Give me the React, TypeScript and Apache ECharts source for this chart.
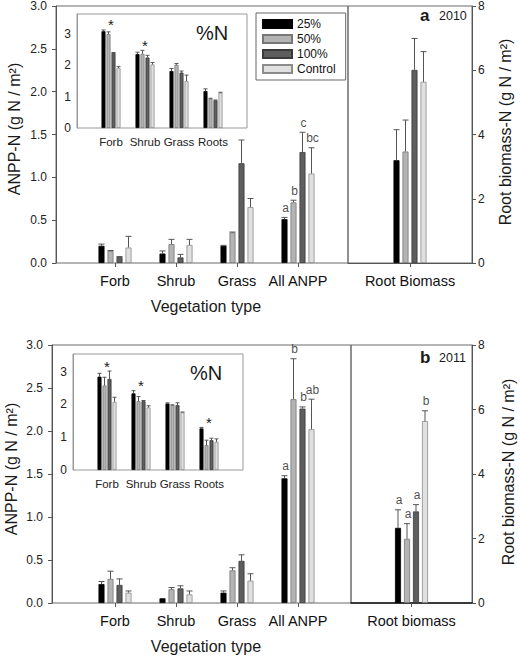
import React, { useEffect, useRef } from "react";
import * as echarts from "echarts";

// ---------- data ----------
const SERIES_NAMES = ["25%", "50%", "100%", "Control"];
const MAIN_CATS = ["Forb", "Shrub", "Grass", "All ANPP"];
const INSET_CATS = ["Forb", "Shrub", "Grass", "Roots"];
const ROOT_CAT_2010 = ["Root Biomass"];
const ROOT_CAT_2011 = ["Root biomass"];

// 2010 ANPP-N (g N / m2), order: Forb, Shrub, Grass, All ANPP
const ANPP10_25 = [0.2, 0.11, 0.2, 0.51];
const ANPP10_25_SE = [0.02, 0.03, 0.005, 0.02];
const ANPP10_50 = [0.14, 0.22, 0.355, 0.705];
const ANPP10_50_SE = [0.005, 0.055, 0.005, 0.025];
const ANPP10_100 = [0.07, 0.065, 1.16, 1.29];
const ANPP10_100_SE = [0.005, 0.035, 0.27, 0.23];
const ANPP10_CTRL = [0.18, 0.21, 0.65, 1.04];
const ANPP10_CTRL_SE = [0.13, 0.065, 0.1, 0.3];
const ANPP10_LETTERS = [
  ["", "", "", "a"],
  ["", "", "", "b"],
  ["", "", "", "c"],
  ["", "", "", "bc"],
];
// 2010 root biomass-N, order: 25%, 50%, 100%, Control
const ROOT10 = [3.2, 3.47, 6.01, 5.64];
const ROOT10_SE = [0.95, 0.98, 0.98, 0.94];
const ROOT10_LETTERS = ["", "", "", ""];
// 2010 %N inset, order: Forb, Shrub, Grass, Roots
const PCTN10_25 = [3.09, 2.36, 1.82, 1.18];
const PCTN10_25_SE = [0.04, 0.06, 0.08, 0.07];
const PCTN10_50 = [3.0, 2.37, 2.02, 0.94];
const PCTN10_50_SE = [0.07, 0.11, 0.04, 0.01];
const PCTN10_100 = [2.4, 2.25, 1.77, 0.885];
const PCTN10_100_SE = [0.01, 0.07, 0.05, 0.01];
const PCTN10_CTRL = [1.92, 2.03, 1.5, 1.13];
const PCTN10_CTRL_SE = [0.04, 0.06, 0.19, 0.01];
const PCTN10_STARS = ["*", "*", "", ""];

// 2011
const ANPP11_25 = [0.22, 0.055, 0.12, 1.45];
const ANPP11_25_SE = [0.03, 0, 0.02, 0.03];
const ANPP11_50 = [0.28, 0.16, 0.38, 2.37];
const ANPP11_50_SE = [0.09, 0.02, 0.03, 0.47];
const ANPP11_100 = [0.21, 0.17, 0.49, 2.26];
const ANPP11_100_SE = [0.07, 0.03, 0.07, 0.02];
const ANPP11_CTRL = [0.12, 0.1, 0.26, 2.02];
const ANPP11_CTRL_SE = [0.02, 0.04, 0.08, 0.35];
const ANPP11_LETTERS = [
  ["", "", "", "a"],
  ["", "", "", "b"],
  ["", "", "", "b"],
  ["", "", "", "ab"],
];
const ROOT11 = [2.33, 1.99, 2.84, 5.64];
const ROOT11_SE = [0.56, 0.47, 0.21, 0.32];
const ROOT11_LETTERS = ["a", "a", "a", "b"];
const PCTN11_25 = [2.85, 2.34, 2.03, 1.27];
const PCTN11_25_SE = [0.1, 0.08, 0.02, 0.03];
const PCTN11_50 = [2.58, 2.1, 1.98, 0.76];
const PCTN11_50_SE = [0.25, 0.14, 0.01, 0.15];
const PCTN11_100 = [2.78, 2.1, 1.98, 0.91];
const PCTN11_100_SE = [0.24, 0.02, 0.07, 0.06];
const PCTN11_CTRL = [2.08, 1.91, 1.76, 0.86];
const PCTN11_CTRL_SE = [0.14, 0.05, 0.01, 0.09];
const PCTN11_STARS = ["*", "*", "", "*"];

// axis ranges
const ANPP_MIN = 0;
const ANPP_MAX = 3;
const ANPP_STEP = 0.5;
const ROOT_MIN = 0;
const ROOT_MAX = 8;
const ROOT_STEP = 2;
const PCTN_STEP = 1;

// ---------- styling ----------
const FONT = '"Liberation Sans", Arial, Helvetica, sans-serif';
const FILLS = ["#000000", "#b4b4b4", "#5e5e5e", "#e0e0e0"];
const EDGES = ["#000000", "#777777", "#3a3a3a", "#8c8c8c"];
const AXIS = "#555555";
const FRAME = "#6a6a6a";
const INK = "#1a1a1a";

type Panel = {
  top: number;
  axisLeft: number;
  divider: number;
  right: number;
  insetLeft: number;
  insetTop: number;
  insetWidth: number;
  insetHeight: number;
  insetMax: number;
  insetBarsLeft: number;
  main: number[][];
  mainSE: number[][];
  mainLetters: string[][];
  root: number[];
  rootSE: number[];
  rootLetters: string[];
  rootCat: string[];
  pct: number[][];
  pctSE: number[][];
  stars: string[];
  tag: string;
  year: string;
};

const PANELS: Panel[] = [
  {
    top: 5,
    axisLeft: 56,
    divider: 348,
    right: 472,
    insetLeft: 77,
    insetTop: 14,
    insetWidth: 170,
    insetHeight: 114,
    insetMax: 3.64,
    insetBarsLeft: 94,
    main: [ANPP10_25, ANPP10_50, ANPP10_100, ANPP10_CTRL],
    mainSE: [ANPP10_25_SE, ANPP10_50_SE, ANPP10_100_SE, ANPP10_CTRL_SE],
    mainLetters: ANPP10_LETTERS,
    root: ROOT10,
    rootSE: ROOT10_SE,
    rootLetters: ROOT10_LETTERS,
    rootCat: ROOT_CAT_2010,
    pct: [PCTN10_25, PCTN10_50, PCTN10_100, PCTN10_CTRL],
    pctSE: [PCTN10_25_SE, PCTN10_50_SE, PCTN10_100_SE, PCTN10_CTRL_SE],
    stars: PCTN10_STARS,
    tag: "a",
    year: "2010",
  },
  {
    top: 345,
    axisLeft: 52,
    divider: 351,
    right: 472,
    insetLeft: 73,
    insetTop: 354,
    insetWidth: 170,
    insetHeight: 116,
    insetMax: 3.54,
    insetBarsLeft: 90,
    main: [ANPP11_25, ANPP11_50, ANPP11_100, ANPP11_CTRL],
    mainSE: [ANPP11_25_SE, ANPP11_50_SE, ANPP11_100_SE, ANPP11_CTRL_SE],
    mainLetters: ANPP11_LETTERS,
    root: ROOT11,
    rootSE: ROOT11_SE,
    rootLetters: ROOT11_LETTERS,
    rootCat: ROOT_CAT_2011,
    pct: [PCTN11_25, PCTN11_50, PCTN11_100, PCTN11_CTRL],
    pctSE: [PCTN11_25_SE, PCTN11_50_SE, PCTN11_100_SE, PCTN11_CTRL_SE],
    stars: PCTN11_STARS,
    tag: "b",
    year: "2011",
  },
];

const PLOT_H = 258;

function buildOption() {
  const grid: any[] = [];
  const xAxis: any[] = [];
  const yAxis: any[] = [];
  const series: any[] = [];
  const graphic: any[] = [];

  const addGrid = (g: any) => {
    grid.push(g);
    return grid.length - 1;
  };

  const hiddenValueX = (gi: number) => ({ gridIndex: gi, type: "value", show: false, min: 0, max: 1 });
  const hiddenY = (gi: number, min: number, max: number) => ({ gridIndex: gi, type: "value", show: false, min, max });

  const barGroup = (xi: number, yi: number, vals: number[][], barWidth: number, barGap: string) => {
    vals.forEach((arr, si) => {
      series.push({
        type: "bar",
        name: SERIES_NAMES[si],
        xAxisIndex: xi,
        yAxisIndex: yi,
        data: arr,
        barWidth,
        barGap,
        itemStyle: { color: FILLS[si], borderColor: EDGES[si], borderWidth: 0.8 },
        z: 2,
      });
    });
  };

  const textStyle = (text: string, fontSize: number, extra: any = {}) => ({
    text,
    fontSize,
    fontFamily: FONT,
    fill: INK,
    ...extra,
  });

  const errGroup = (
    xi: number,
    yi: number,
    vals: number[][],
    ses: number[][],
    labels: string[][] | null,
    step: number,
    cap: number
  ) => {
    const data: number[][] = [];
    vals.forEach((arr, si) => arr.forEach((v, ci) => data.push([ci, si, v, ses[si][ci]])));
    series.push({
      type: "custom",
      xAxisIndex: xi,
      yAxisIndex: yi,
      silent: true,
      z: 5,
      encode: { x: 0, y: 2 },
      itemStyle: { color: "#555" },
      data,
      renderItem: (_p: any, api: any) => {
        const ci = api.value(0);
        const si = api.value(1);
        const v = api.value(2);
        const e = api.value(3);
        const b = api.coord([ci, v]);
        const t = api.coord([ci, v + e]);
        const x = b[0] + (si - 1.5) * step;
        const children: any[] = [];
        if (e > 0) {
          children.push({
            type: "line",
            shape: { x1: x, y1: b[1], x2: x, y2: t[1] },
            style: { stroke: "#555", lineWidth: 1 },
          });
          children.push({
            type: "line",
            shape: { x1: x - cap, y1: t[1], x2: x + cap, y2: t[1] },
            style: { stroke: "#555", lineWidth: 1 },
          });
        }
        return { type: "group", children };
      },
    });
    // significance letters as labels of invisible scatter points
    if (labels) {
      const pts: any[] = [];
      vals.forEach((arr, si) =>
        arr.forEach((v, ci) => {
          const lab = labels[si][ci];
          if (!lab) return;
          pts.push({
            value: [ci, v + ses[si][ci]],
            label: { formatter: lab, offset: [(si - 1.5) * step + 1, 0] },
          });
        })
      );
      series.push({
        type: "scatter",
        xAxisIndex: xi,
        yAxisIndex: yi,
        silent: true,
        z: 6,
        symbolSize: 1,
        itemStyle: { color: "rgba(0,0,0,0)" },
        label: {
          show: true,
          position: "top",
          distance: 3,
          color: INK,
          fontSize: 12,
          fontFamily: FONT,
        },
        data: pts,
      });
    }
  };

  const starGroup = (xi: number, yi: number, vals: number[][], ses: number[][], stars: string[]) => {
    const data: number[][] = [];
    stars.forEach((s, ci) => {
      if (!s) return;
      let top = 0;
      vals.forEach((arr, si) => {
        top = Math.max(top, arr[ci] + ses[si][ci]);
      });
      data.push([ci, top]);
    });
    series.push({
      type: "custom",
      xAxisIndex: xi,
      yAxisIndex: yi,
      silent: true,
      z: 6,
      encode: { x: 0, y: 1 },
      itemStyle: { color: INK },
      data,
      renderItem: (_p: any, api: any) => {
        const p = api.coord([api.value(0), api.value(1)]);
        return {
          type: "text",
          x: p[0],
          y: p[1] - 5,
          style: textStyle("*", 15, { align: "center", verticalAlign: "middle" }),
        };
      },
    });
  };

  PANELS.forEach((P) => {
    // main frame with left axis
    const gFrame = addGrid({
      left: P.axisLeft,
      top: P.top,
      width: P.divider - P.axisLeft,
      height: PLOT_H,
      show: true,
      borderColor: FRAME,
      borderWidth: 1,
      backgroundColor: "transparent",
    });
    xAxis.push(hiddenValueX(gFrame));
    yAxis.push({
      gridIndex: gFrame,
      type: "value",
      position: "left",
      min: ANPP_MIN,
      max: ANPP_MAX,
      interval: ANPP_STEP,
      axisLine: { show: true, lineStyle: { color: AXIS } },
      axisTick: { show: true, length: 4, lineStyle: { color: AXIS } },
      axisLabel: {
        fontSize: 12,
        fontFamily: FONT,
        color: "#222",
        margin: 9,
        formatter: (v: number) => v.toFixed(1),
      },
      splitLine: { show: false },
    });

    // main bars
    const gBars = addGrid({ left: 84.5, top: P.top, width: 244, height: PLOT_H });
    xAxis.push({
      gridIndex: gBars,
      type: "category",
      data: MAIN_CATS,
      axisLine: { show: false },
      axisTick: { show: true, alignWithLabel: true, length: 4, lineStyle: { color: AXIS } },
      axisLabel: { fontSize: 14.5, fontFamily: FONT, color: "#111", margin: 10, interval: 0 },
    });
    yAxis.push(hiddenY(gBars, ANPP_MIN, ANPP_MAX));
    const xiBars = xAxis.length - 1;
    const yiBars = yAxis.length - 1;
    barGroup(xiBars, yiBars, P.main, 6, "50%");
    errGroup(xiBars, yiBars, P.main, P.mainSE, P.mainLetters, 9, 3);

    // root biomass panel
    const gRoot = addGrid({
      left: P.divider,
      top: P.top,
      width: P.right - P.divider,
      height: PLOT_H,
      show: true,
      borderColor: FRAME,
      borderWidth: 1,
      backgroundColor: "transparent",
    });
    xAxis.push({
      gridIndex: gRoot,
      type: "category",
      data: P.rootCat,
      axisLine: {
        show: true,
        lineStyle: { color: P.tag === "b" ? "#111" : AXIS, width: P.tag === "b" ? 1.5 : 1 },
      },
      axisTick: { show: true, alignWithLabel: true, length: 4, lineStyle: { color: AXIS } },
      axisLabel: { fontSize: 14.5, fontFamily: FONT, color: "#111", margin: 10, interval: 0 },
    });
    yAxis.push({
      gridIndex: gRoot,
      type: "value",
      position: "right",
      min: ROOT_MIN,
      max: ROOT_MAX,
      interval: ROOT_STEP,
      axisLine: { show: true, lineStyle: { color: AXIS } },
      axisTick: { show: true, length: 4, lineStyle: { color: AXIS } },
      axisLabel: { fontSize: 12, fontFamily: FONT, color: "#222", margin: 6 },
      splitLine: { show: false },
    });
    const xiRoot = xAxis.length - 1;
    const yiRoot = yAxis.length - 1;
    const rootVals = P.root.map((v) => [v]);
    const rootSE = P.rootSE.map((v) => [v]);
    const rootLetters = P.rootLetters.map((s) => [s]);
    barGroup(xiRoot, yiRoot, rootVals, 6, "50%");
    errGroup(xiRoot, yiRoot, rootVals, rootSE, rootLetters, 9, 3);

    // inset frame with its y axis
    const gInset = addGrid({
      left: P.insetLeft,
      top: P.insetTop,
      width: P.insetWidth,
      height: P.insetHeight,
      show: true,
      borderColor: "#999",
      borderWidth: 1,
      backgroundColor: "#fff",
    });
    xAxis.push(hiddenValueX(gInset));
    yAxis.push({
      gridIndex: gInset,
      type: "value",
      position: "left",
      min: 0,
      max: P.insetMax,
      interval: PCTN_STEP,
      axisLine: { show: true, lineStyle: { color: "#999" } },
      axisTick: { show: false },
      axisLabel: {
        fontSize: 12,
        fontFamily: FONT,
        color: "#222",
        margin: 6,
        showMaxLabel: false,
        formatter: (v: number) => (Number.isInteger(v) ? String(v) : ""),
      },
      splitLine: { show: false },
    });

    const gInsetBars = addGrid({
      left: P.insetBarsLeft,
      top: P.insetTop,
      width: 136,
      height: P.insetHeight,
    });
    xAxis.push({
      gridIndex: gInsetBars,
      type: "category",
      data: INSET_CATS,
      axisLine: { show: false },
      axisTick: { show: false },
      axisLabel: { fontSize: 11.5, fontFamily: FONT, color: "#222", margin: 8, interval: 0 },
    });
    yAxis.push(hiddenY(gInsetBars, 0, P.insetMax));
    const xiIn = xAxis.length - 1;
    const yiIn = yAxis.length - 1;
    barGroup(xiIn, yiIn, P.pct, 4, "25%");
    errGroup(xiIn, yiIn, P.pct, P.pctSE, null, 5, 2);
    starGroup(xiIn, yiIn, P.pct, P.pctSE, P.stars);

    // texts
    const off = P.top - 5;
    graphic.push({
      type: "text",
      x: P.tag === "a" ? 212 : 206,
      y: P.tag === "a" ? 33 : 373,
      style: textStyle("%N", 20, { align: "center", verticalAlign: "middle" }),
    });
    graphic.push({
      type: "text",
      x: 420,
      y: 15 + off + (P.tag === "b" ? 2 : 0),
      style: textStyle(P.tag, 17, { fontWeight: "bold", align: "left", verticalAlign: "middle" }),
    });
    graphic.push({
      type: "text",
      x: 439,
      y: 16 + off + (P.tag === "b" ? 2 : 0),
      style: textStyle(P.year, 12.5, { align: "left", verticalAlign: "middle" }),
    });
    graphic.push({
      type: "text",
      x: P.tag === "a" ? 14 : 11,
      y: 129 + off,
      rotation: Math.PI / 2,
      style: textStyle("ANPP-N (g N / m²)", 16, { align: "center", verticalAlign: "middle" }),
    });
    graphic.push({
      type: "text",
      x: P.tag === "a" ? 505 : 508,
      y: 132 + off,
      rotation: Math.PI / 2,
      style: textStyle("Root biomass-N (g N / m²)", 16, { align: "center", verticalAlign: "middle" }),
    });
    graphic.push({
      type: "text",
      x: 206,
      y: 306 + off,
      style: textStyle("Vegetation type", 16, { align: "center", verticalAlign: "middle" }),
    });
  });

  return {
    animation: false,
    backgroundColor: "#ffffff",
    textStyle: { fontFamily: FONT },
    grid,
    xAxis,
    yAxis,
    series,
    graphic,
    legend: {
      show: true,
      orient: "vertical",
      left: 256,
      top: 13,
      itemWidth: 29,
      itemHeight: 8,
      itemGap: 3,
      padding: [5, 10, 5, 6],
      borderColor: "#666",
      borderWidth: 1,
      backgroundColor: "#fff",
      selectedMode: false,
      icon: "rect",
      data: SERIES_NAMES,
      textStyle: { fontSize: 12, fontFamily: FONT, color: "#111" },
    },
  };
}

export default function App() {
  const ref = useRef<HTMLDivElement>(null);
  useEffect(() => {
    if (!ref.current) return;
    const chart = echarts.init(ref.current, undefined, { renderer: "svg" });
    chart.setOption(buildOption() as any);
    return () => chart.dispose();
  }, []);
  return (
    <div
      ref={ref}
      style={{ position: "fixed", left: 0, top: 0, width: 520, height: 656, background: "#fff" }}
    />
  );
}
